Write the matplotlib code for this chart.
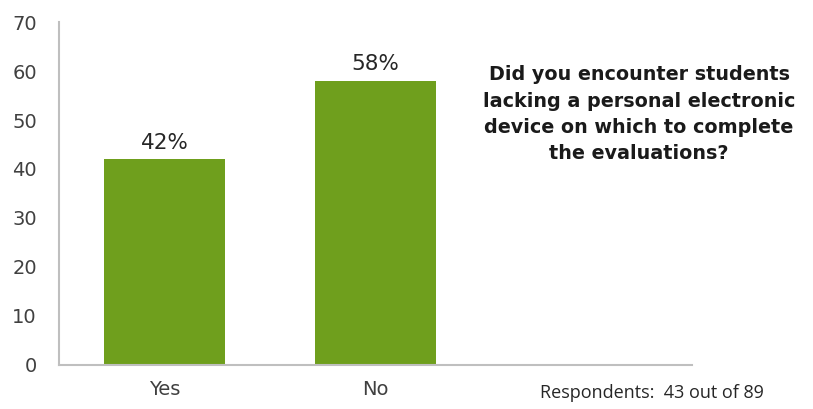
import matplotlib.pyplot as plt

categories = ["Yes", "No", ""]
values = [42, 58, 0]
labels = ["42%", "58%", ""]
y_ticks = [0, 10, 20, 30, 40, 50, 60, 70]

question = ("Did you encounter students\nlacking a personal electronic\n"
            "device on which to complete\nthe evaluations?")
respondents = "Respondents:  43 out of 89"

plt.rcParams["font.family"] = ["DejaVu Sans"]

fig = plt.figure(figsize=(8.13, 4.09), dpi=100)
ax = fig.add_axes([0.0726, 0.1076, 0.7786, 0.8386])

x = range(len(categories))
bars = ax.bar(x, values, width=0.57, color="#6f9f1d")
for b, lab in zip(bars, labels):
    if lab:
        ax.text(b.get_x() + b.get_width() / 2, b.get_height() + 1.3, lab,
                ha="center", va="bottom", fontsize=15.5, color="#262626")

ax.set_xlim(-0.5, 2.5)
ax.set_ylim(0, 70)
ax.set_yticks(y_ticks)
ax.set_xticks([0, 1])
ax.set_xticklabels(categories[:2])
ax.tick_params(axis="both", length=0, labelsize=14, colors="#404040")
ax.tick_params(axis="y", pad=16)
ax.tick_params(axis="x", pad=11)

for side in ["top", "right"]:
    ax.spines[side].set_visible(False)
for side in ["left", "bottom"]:
    ax.spines[side].set_color("#bfbfbf")
    ax.spines[side].set_linewidth(1.5)

fig.text(0.786, 0.84, question, ha="center", va="top", fontsize=13.8,
         fontweight="bold", color="#1a1a1a", linespacing=1.48)
fig.text(0.664, 0.04, respondents, ha="left", va="center", fontsize=13,
         color="#262626", family=["Open Sans", "DejaVu Sans"])

fig.savefig("out.png", dpi=100)
